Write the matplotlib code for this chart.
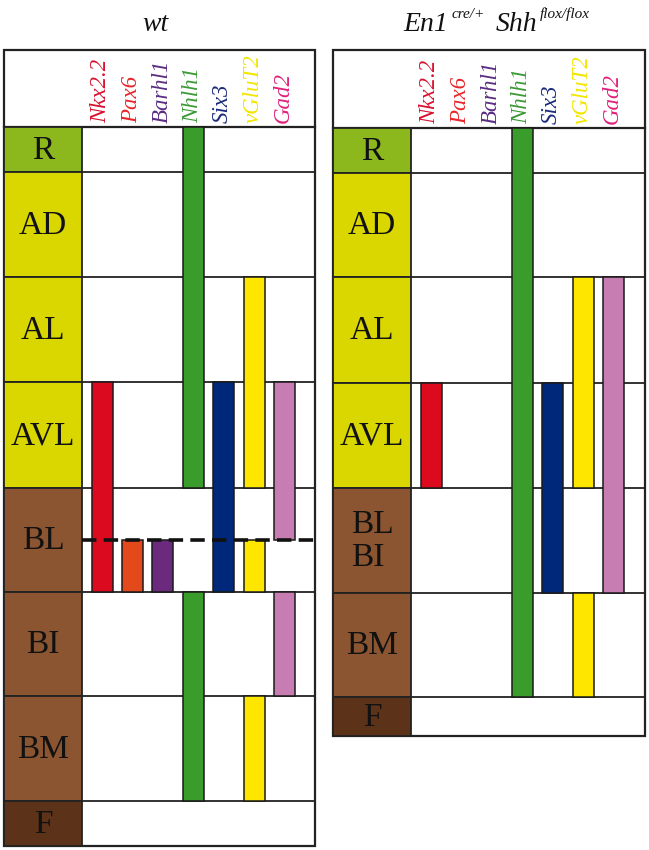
import numpy as np
import matplotlib
matplotlib.use('Agg')
import matplotlib.pyplot as plt
from matplotlib.patches import Rectangle

# -------------------------------------------------------------------------- ##
#  Data
# -------------------------------------------------------------------------- ##
genes = ['Nkx2.2', 'Pax6', 'Barhl1', 'Nhlh1', 'Six3', 'vGluT2', 'Gad2']
gene_text_colors = ['#d8102e', '#e8262a', '#5a2d82', '#3c9a36', '#1a2a7a', '#f2e600', '#e0207a']
gene_bar_colors = ['#dc0a1e', '#e4491c', '#6c2a7e', '#3a9c2a', '#00287a', '#ffe600', '#c87db2']

wt_rows = ['R', 'AD', 'AL', 'AVL', 'BL', 'BI', 'BM', 'F']
mut_rows = ['R', 'AD', 'AL', 'AVL', 'BL\nBI', 'BM', 'F']

# expression domains in row units (row i spans i..i+1, 4.5 = middle of BL)
wt_expr = {
    'Nkx2.2': [(3, 5)],
    'Pax6': [(4.5, 5)],
    'Barhl1': [(4.5, 5)],
    'Nhlh1': [(0, 4), (5, 7)],
    'Six3': [(3, 5)],
    'vGluT2': [(2, 4), (4.5, 5), (6, 7)],
    'Gad2': [(3, 4.5), (5, 6)],
}
mut_expr = {
    'Nkx2.2': [(3, 4)],
    'Pax6': [],
    'Barhl1': [],
    'Nhlh1': [(0, 6)],
    'Six3': [(3, 5)],
    'vGluT2': [(2, 4), (5, 6)],
    'Gad2': [(2, 5)],
}
wt_dashed = 4.5

# title pieces: (text, is_superscript)
wt_title = [('wt', False)]
mut_title = [('En1', False), ('cre/+', True), ('Shh', False), ('flox/flox', True)]

# -------------------------------------------------------------------------- ##
#  Layout (pixels)
# -------------------------------------------------------------------------- ##
label_colors = {'R': '#8cb81e', 'A': '#d9d600', 'B': '#8a5530', 'F': '#5c3318'}
serif = 'Liberation Serif'
pitch = 30.4
bar_w = 21

fig = plt.figure(figsize=(6.49, 8.5), dpi=100)
ax = fig.add_axes([0, 0, 1, 1])
ax.set_xlim(0, 649)
ax.set_ylim(850, 0)
ax.axis('off')
renderer = fig.canvas.get_renderer()


def draw_title(pieces, cx, base=31):
    texts = []
    for k, (s, sup) in enumerate(pieces):
        t = ax.text(0, base - (13 if sup else 0), s, fontsize=11 if sup else 20,
                    family=serif, style='italic', ha='left', va='baseline',
                    color='#111111')
        texts.append(t)
    gaps = [0] + [3 if sup else 11 for (s, sup) in pieces[1:]]
    widths = [t.get_window_extent(renderer).width for t in texts]
    x = cx - (sum(widths) + sum(gaps)) / 2
    for t, w, g in zip(texts, widths, gaps):
        x += g
        t.set_x(x)
        x += w


def draw_panel(x0, xl, x1, top, hdr, heights, rows, expr, dashed=None):
    bounds = np.concatenate([[hdr], hdr + np.cumsum(heights)])
    ypos = lambda u: np.interp(u, np.arange(len(bounds)), bounds)
    bottom = bounds[-1]

    # white box + header
    ax.add_patch(Rectangle((x0, top), x1 - x0, bottom - top, facecolor='white',
                           edgecolor='#222222', linewidth=1.6, zorder=1))
    ax.plot([x0, x1], [hdr, hdr], color='#222222', lw=1.6, zorder=2)
    for b in bounds[1:-1]:
        ax.plot([xl, x1], [b, b], color='#222222', lw=1.3, zorder=2)

    # row labels
    for i, name in enumerate(rows):
        ax.add_patch(Rectangle((x0, bounds[i]), xl - x0, bounds[i + 1] - bounds[i],
                               facecolor=label_colors[name[0]], edgecolor='#222222',
                               linewidth=1.3, zorder=3))
        ax.text((x0 + xl) / 2, (bounds[i] + bounds[i + 1]) / 2 + 1, name,
                ha='center', va='center', fontsize=24, family=serif,
                color='#111111', multialignment='left', linespacing=1.1, zorder=4)

    # gene headers and expression bars
    for j, g in enumerate(genes):
        cx = xl + 20 + j * pitch
        ax.text(cx - 1, hdr - 4, g, rotation=90, ha='center', va='bottom',
                fontsize=16.5, family=serif, style='italic',
                color=gene_text_colors[j], zorder=4)
        for (a, b) in expr[g]:
            y0, y1 = ypos(a), ypos(b)
            ax.add_patch(Rectangle((cx - bar_w / 2, y0), bar_w, y1 - y0,
                                   facecolor=gene_bar_colors[j], edgecolor='#1a1a1a',
                                   linewidth=1.1, zorder=5))

    if dashed is not None:
        yd = ypos(dashed)
        ax.plot([xl, x1], [yd, yd], color='#111111', lw=2.6,
                linestyle=(0, (4, 2)), zorder=6)


draw_panel(4, 82, 315, 50, 127, [45, 105, 105, 106, 104, 104, 105, 45],
           wt_rows, wt_expr, dashed=wt_dashed)
draw_panel(333, 411, 645, 50, 128, [45, 104, 106, 105, 105, 104, 39],
           mut_rows, mut_expr)
draw_title(wt_title, 155)
draw_title(mut_title, 497)

fig.savefig('out.png', dpi=100)
